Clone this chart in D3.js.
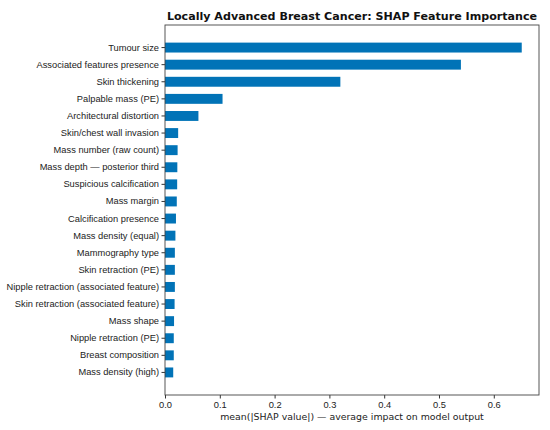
<!DOCTYPE html>
<html>
<head>
<meta charset="utf-8">
<script src="https://cdn.jsdelivr.net/npm/d3@7"></script>
<style>
  body { margin: 0; background: #fff; }
  svg { font-family: "DejaVu Sans", sans-serif; }
</style>
</head>
<body>
<div id="chart"></div>
<script>
"use strict";
// features, most important first
const features = [
  'Tumour size', 'Associated features presence', 'Skin thickening', 'Palpable mass (PE)',
  'Architectural distortion', 'Skin/chest wall invasion', 'Mass number (raw count)',
  'Mass depth \u2014 posterior third', 'Suspicious calcification', 'Mass margin',
  'Calcification presence', 'Mass density (equal)', 'Mammography type', 'Skin retraction (PE)',
  'Nipple retraction (associated feature)', 'Skin retraction (associated feature)',
  'Mass shape', 'Nipple retraction (PE)', 'Breast composition', 'Mass density (high)'
];
const shapValues = [
  0.651, 0.540, 0.320, 0.105, 0.061, 0.024, 0.023, 0.0225, 0.0222, 0.0215,
  0.020, 0.019, 0.018, 0.018, 0.018, 0.0175, 0.0165, 0.016, 0.016, 0.015
];
const xTicks = [0, 0.1, 0.2, 0.3, 0.4, 0.5, 0.6];

const width = 550, height = 430;
const margin = {top: 25, right: 11, bottom: 35, left: 165};

const svg = d3.select('#chart').append('svg')
  .attr('width', width)
  .attr('height', height);

const x = d3.scaleLinear()
  .domain([0, 0.6825])
  .range([margin.left, width - margin.right]);

const y = d3.scaleBand()
  .domain(features)
  .range([margin.top, height - margin.bottom])
  .paddingInner(0.42)
  .paddingOuter(1.03);

// bars
svg.append('g')
  .selectAll('rect')
  .data(features)
  .enter()
  .append('rect')
  .attr('x', x(0))
  .attr('y', d => y(d))
  .attr('height', y.bandwidth())
  .attr('width', (d, i) => x(shapValues[i]) - x(0))
  .attr('fill', '#0173b7');

// y axis, labels only
const yAxis = svg.append('g')
  .attr('transform', `translate(${margin.left},0)`)
  .call(d3.axisLeft(y).tickSize(3.5).tickPadding(2.5));
yAxis.select('.domain').remove();
yAxis.selectAll('text').attr('font-size', 9.3).attr('fill', '#222');
yAxis.selectAll('line').attr('stroke', '#333');

// x axis
const xAxis = svg.append('g')
  .attr('transform', `translate(0,${height - margin.bottom})`)
  .call(d3.axisBottom(x).tickValues(xTicks).tickFormat(d3.format('.1f')).tickSize(3.5).tickPadding(2.5));
xAxis.select('.domain').remove();
xAxis.selectAll('text').attr('font-size', 9.3).attr('fill', '#222');
xAxis.selectAll('line').attr('stroke', '#333');

// frame
svg.append('rect')
  .attr('x', margin.left)
  .attr('y', margin.top)
  .attr('width', width - margin.right - margin.left)
  .attr('height', height - margin.bottom - margin.top)
  .attr('fill', 'none')
  .attr('stroke', '#444')
  .attr('stroke-width', 0.9);

// axis title
svg.append('text')
  .attr('x', (margin.left + width - margin.right) / 2)
  .attr('y', 420)
  .attr('text-anchor', 'middle')
  .attr('font-size', 9.4)
  .attr('fill', '#222')
  .text('mean(|SHAP value|) \u2014 average impact on model output');

// chart title
svg.append('text')
  .attr('x', (margin.left + width - margin.right) / 2)
  .attr('y', 20)
  .attr('text-anchor', 'middle')
  .attr('font-size', 11.1)
  .attr('font-weight', 'bold')
  .attr('fill', '#111')
  .text('Locally Advanced Breast Cancer: SHAP Feature Importance');
</script>
</body>
</html>
